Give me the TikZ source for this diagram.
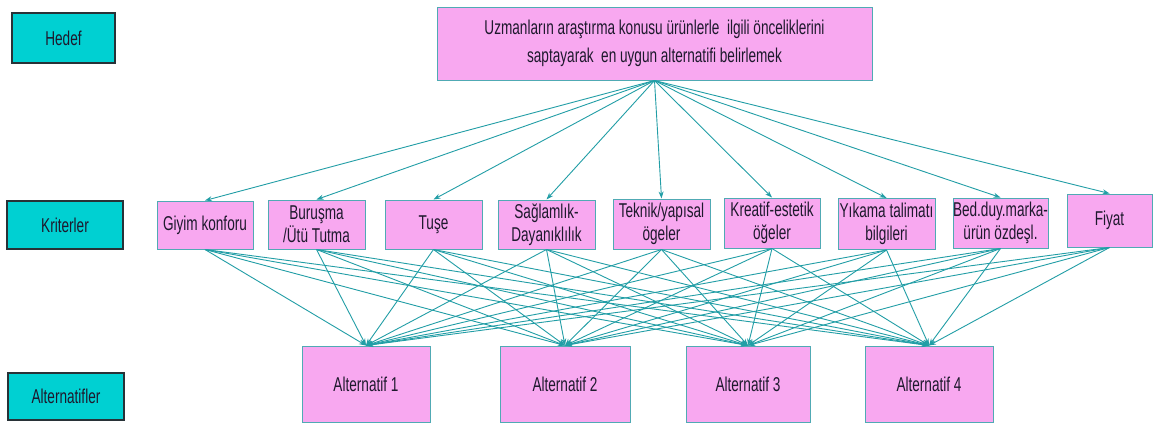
\documentclass[tikz,border=0pt]{standalone}
\usepackage{fontspec}
\setmainfont{Liberation Sans}[FakeStretch=0.68]
\usetikzlibrary{arrows.meta}
\definecolor{pinkfill}{RGB}{248,168,240}
\definecolor{pinkdraw}{RGB}{80,170,180}
\definecolor{cyanfill}{RGB}{0,208,210}
\definecolor{cyandraw}{RGB}{40,50,55}
\definecolor{arrowcol}{RGB}{34,158,166}
\definecolor{txt}{RGB}{30,25,45}
\tikzset{
  levelbox/.style={draw=cyandraw, fill=cyanfill, line width=1.1pt, inner sep=0pt,
    minimum width=#1, minimum height=48pt, text=txt, font=\fontsize{20}{24}\selectfont},
  topbox/.style={draw=pinkdraw, fill=pinkfill, line width=1pt, inner sep=0pt,
    minimum width=435pt, minimum height=73pt, align=center, text=txt,
    font=\fontsize{20}{28}\selectfont},
  critbox/.style={draw=pinkdraw, fill=pinkfill, line width=1pt, inner sep=0pt,
    minimum width=#1, minimum height=49pt, align=center, text=txt,
    font=\fontsize{20}{23}\selectfont},
  altbox/.style={draw=pinkdraw, fill=pinkfill, line width=1pt, inner sep=0pt,
    minimum width=#1, minimum height=76pt, text=txt,
    font=\fontsize{20}{24}\selectfont},
  conn/.style={draw=arrowcol, line width=0.9pt, -{Stealth[length=7pt,width=5pt]}}
}
\begin{document}
\begin{tikzpicture}[x=1pt,y=-1pt]
\fill[white] (0,0) rectangle (1155,423);
\useasboundingbox (0,0) rectangle (1155,423);
% level labels
\node[levelbox=103pt, minimum height=50pt] (hedef) at (63.5,38) {Hedef};
\node[levelbox=116pt] (kriter) at (65,225) {Kriterler};
\node[levelbox=116pt, minimum height=47pt] (altlab) at (66,396.5) {Alternatifler};
% goal
\node[topbox] (top) at (654.5,43.5) {Uzmanların araştırma konusu ürünlerle\ \ ilgili önceliklerini\\saptayarak\ \ en uygun alternatifi belirlemek};
% criteria
\node[critbox=96pt, minimum height=48pt] (c1) at (205,225) {Giyim konforu};
\node[critbox=97pt] (c2) at (316.5,224.5) {Buruşma\\/Ütü Tutma};
\node[critbox=97pt] (c3) at (433.5,224.5) {Tuşe};
\node[critbox=97pt] (c4) at (546.5,224.5) {Sağlamlık-\\Dayanıklılık};
\node[critbox=97pt, minimum height=50pt] (c5) at (661.5,224) {Teknik/yapısal\\ögeler};
\node[critbox=96pt, minimum height=50pt] (c6) at (772,223) {Kreatif-estetik\\öğeler};
\node[critbox=97pt, minimum height=51pt] (c7) at (886.5,224) {Yıkama talimatı\\bilgileri};
\node[critbox=95pt, minimum height=50pt] (c8) at (1000.5,223) {Bed.duy.marka-\\ürün özdeşl.};
\node[critbox=85pt, minimum height=53pt] (c9) at (1109.5,220.5) {Fiyat};
% alternatives
\node[altbox=128pt] (a1) at (366,384) {Alternatif 1};
\node[altbox=130pt] (a2) at (565,384) {Alternatif 2};
\node[altbox=124pt] (a3) at (748,384) {Alternatif 3};
\node[altbox=128pt] (a4) at (929,384) {Alternatif 4};
% goal to criteria
\foreach \c in {c1,c2,c3,c4,c5,c6,c7,c8,c9}
  \draw[conn] (top.south) -- (\c.north);
% criteria to alternatives
\foreach \c in {c1,c2,c3,c4,c5,c6,c7,c8,c9}
  \foreach \a in {a1,a2,a3,a4}
    \draw[conn] (\c.south) -- (\a.north);
\end{tikzpicture}
\end{document}
